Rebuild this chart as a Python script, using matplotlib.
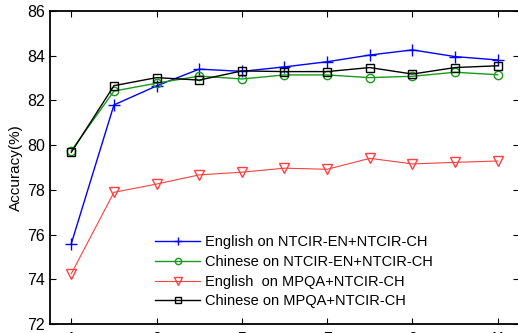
import numpy as np
import matplotlib.pyplot as plt

plt.rcParams['font.family'] = ['Liberation Sans', 'DejaVu Sans']

# --- data ---
x = np.arange(1, 12)
en_ntcir = [75.6, 81.8, 82.65, 83.4, 83.3, 83.5, 83.73, 84.03, 84.26, 83.96, 83.81]
cn_ntcir = [79.75, 82.42, 82.77, 83.09, 82.96, 83.14, 83.14, 83.02, 83.08, 83.26, 83.15]
en_mpqa = [74.25, 77.89, 78.26, 78.67, 78.79, 78.97, 78.92, 79.41, 79.16, 79.23, 79.29]
cn_mpqa = [79.68, 82.66, 83.02, 82.91, 83.32, 83.29, 83.29, 83.47, 83.18, 83.47, 83.55]
xticks = [1, 3, 5, 7, 9, 11]
yticks = np.arange(72, 87, 2)

fig = plt.figure(figsize=(5.18, 3.33), dpi=100)
ax = fig.add_axes([50 / 518, 9 / 333, 469 / 518, 313 / 333])

ax.plot(x, en_ntcir, color='blue', marker='+', ms=8, mew=1, lw=1,
        label='English on NTCIR-EN+NTCIR-CH')
ax.plot(x, cn_ntcir, color='#1a9a1a', marker='o', ms=6, mfc='none', mew=1, lw=1,
        label='Chinese on NTCIR-EN+NTCIR-CH')
ax.plot(x, en_mpqa, color='#ff4040', marker='v', ms=7, mfc='none', mew=1, lw=0.8,
        label='English  on MPQA+NTCIR-CH')
ax.plot(x, cn_mpqa, color='black', marker='s', ms=6, mfc='none', mew=1, lw=1,
        label='Chinese on MPQA+NTCIR-CH')

ax.set_xlim(0.5, 11.5)
ax.set_ylim(72, 86)
ax.set_xticks(xticks)
ax.set_yticks(yticks)
ax.tick_params(direction='in', top=True, right=True, length=4, labelsize=11.5)
ax.tick_params(axis='x', pad=6)
for s in ax.spines.values():
    s.set_linewidth(1.3)
ax.set_ylabel('Accuracy(%)', fontsize=11, labelpad=3)

ax.legend(loc='upper left', bbox_to_anchor=(155 / 518, 1 - 235 / 333),
          bbox_transform=fig.transFigure, frameon=False, fontsize=10.5,
          handlelength=3.1, handletextpad=0.35, labelspacing=0.4,
          markerscale=0.75, borderpad=0, borderaxespad=0)

fig.savefig('out.png', dpi=100)
